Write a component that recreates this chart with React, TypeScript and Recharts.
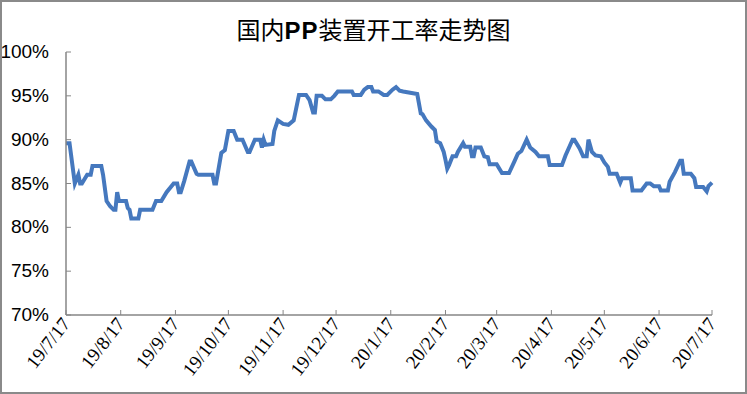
import React from 'react';
import { LineChart, Line, XAxis, YAxis } from 'recharts';

// days counted from 2019-07-17
const days = [
  0, 2, 5, 7, 8, 9, 12, 14, 15, 20, 21, 23, 25, 27, 28, 29, 30, 34, 35, 36, 37, 41, 42, 49, 51, 54, 57, 61, 63, 64, 65,
  67, 70, 71, 74, 75, 83, 84, 85, 88, 90, 92, 95, 97, 100, 103, 104, 107, 110, 111, 112, 113, 117, 118, 120, 123, 126,
  129, 132, 136, 138, 140, 141, 142, 145, 147, 150, 152, 154, 162, 163, 167, 169, 171, 173, 174, 177, 180, 182, 185,
  187, 189, 191, 199, 201, 202, 204, 207, 209, 210, 212, 214, 215, 216, 217, 219, 221, 222, 225, 226, 229, 230, 231,
  232, 235, 237, 239, 240, 244, 247, 251, 254, 256, 258, 261, 263, 266, 268, 273, 274, 281, 283, 287, 288, 291, 293,
  295, 296, 298, 300, 303, 305, 307, 308, 312, 314, 315, 320, 321, 326, 329, 331, 333, 336, 337, 341, 342, 345, 348,
  349, 350, 354, 356, 357, 361, 363, 364, 366,
];
const rates = [
  89.6, 89.6, 85.0, 86.0, 85.0, 85.0, 86.0, 86.0, 87.0, 87.0, 86.0, 83.0, 82.4, 82.0, 82.0, 84.0, 83.0, 83.0, 82.2, 82.0,
  81.0, 81.0, 82.0, 82.0, 83.0, 83.0, 84.0, 85.0, 85.0, 84.0, 84.0,
  85.3, 87.5, 87.5, 86.1, 86.0, 86.0, 85.0, 85.0, 88.5, 88.8, 91.0, 91.0, 90.0, 90.0, 88.6, 88.6, 90.0, 90.0, 89.1, 90.0,
  89.4, 89.5, 91.0, 92.2, 91.8, 91.7,
  92.2, 95.1, 95.1, 94.5, 93.1, 93.1, 95.0, 95.0, 94.6, 94.6, 95.0, 95.5, 95.5, 95.1, 95.1, 95.7, 96.0, 96.0, 95.5, 95.5,
  95.1, 95.1, 95.7,
  96.0, 95.6, 95.5, 95.2, 93.0, 92.9, 92.2, 91.5, 91.1, 89.8, 89.6, 88.6, 87.7, 86.7, 87.1, 88.1, 88.1, 88.6, 89.6, 89.2,
  89.2, 88.1, 88.1,
  89.1, 89.1, 88.1, 88.0, 87.2, 87.2, 86.2, 86.2, 87.5, 88.4, 88.7, 90.0, 89.1, 88.6, 88.1, 88.1, 87.1, 87.1, 88.2, 90.0,
  90.0, 89.0, 88.1,
  88.1, 90.0, 88.6, 88.2, 88.1, 87.4, 86.9, 86.1, 86.1, 85.1, 85.6, 85.6, 84.2, 84.2, 85.0, 85.0, 84.7, 84.7, 84.2, 84.2,
  85.2, 86.3, 87.6,
  87.6, 86.1, 86.1, 85.6, 84.6, 84.6, 84.1, 84.7, 85.1,
];

const tickDays = [0, 31, 62, 92, 123, 153, 184, 215, 244, 275, 305, 336, 366];
const tickLabels = [
  '19/7/17', '19/8/17', '19/9/17', '19/10/17', '19/11/17', '19/12/17',
  '20/1/17', '20/2/17', '20/3/17', '20/4/17', '20/5/17', '20/6/17', '20/7/17',
];
const yTicks = [70, 75, 80, 85, 90, 95, 100];

const data = days.map((d, i) => ({ day: d, rate: rates[i] }));

const AXIS = '#868686';

const YTick = (props: any) => {
  const { x, y, payload } = props;
  return (
    <g>
      <line x1={x} x2={x + 5} y1={y} y2={y} stroke={AXIS} />
      <text
        x={x - 17}
        y={y}
        dy={6}
        textAnchor="end"
        fontFamily="'Liberation Sans', Arial, sans-serif"
        fontSize={19}
        fill="#000"
      >
        {payload.value}%
      </text>
    </g>
  );
};

const XTick = (props: any) => {
  const { x, y, payload } = props;
  const idx = tickDays.indexOf(payload.value);
  const tx = x + 5;
  const ty = y + 9;
  return (
    <g>
      <line x1={x} x2={x} y1={y} y2={y - 5} stroke={AXIS} />
      <text
        x={tx}
        y={ty}
        textAnchor="end"
        transform={`rotate(-52 ${tx} ${ty})`}
        fontFamily="'Liberation Serif', 'Times New Roman', serif"
        fontSize={19}
        fill="#000"
      >
        {tickLabels[idx]}
      </text>
    </g>
  );
};

export default function App() {
  return (
    <div
      style={{
        position: 'absolute',
        left: 0,
        top: 0,
        width: 747,
        height: 394,
        boxSizing: 'border-box',
        border: '2px solid #8a8a8a',
        background: '#fff',
        overflow: 'hidden',
      }}
    >
      <div
        style={{
          position: 'absolute',
          left: 0,
          top: 11,
          width: 743,
          textAlign: 'center',
          fontFamily: "'Noto Sans CJK SC', sans-serif",
          fontSize: 24,
          lineHeight: '32px',
          color: '#000',
        }}
      >
        国内<span style={{ fontFamily: "'Liberation Sans', Arial, sans-serif", fontWeight: 'bold', letterSpacing: 1 }}>PP</span>装置开工率走势图
      </div>
      <div style={{ position: 'absolute', left: -2, top: -2 }}>
        <LineChart width={747} height={394} data={data} margin={{ top: 52, right: 35, bottom: 0, left: 0 }}>
          <XAxis
            dataKey="day"
            type="number"
            domain={[0, 366]}
            ticks={tickDays}
            interval={0}
            height={79}
            tickSize={0}
            tickMargin={0}
            tickLine={false}
            axisLine={{ stroke: AXIS, strokeWidth: 1.5 }}
            tick={<XTick />}
          />
          <YAxis
            type="number"
            domain={[70, 100]}
            ticks={yTicks}
            interval={0}
            width={66}
            tickSize={0}
            tickMargin={0}
            tickLine={false}
            axisLine={{ stroke: AXIS, strokeWidth: 1.5 }}
            tick={<YTick />}
          />
          <Line
            dataKey="rate"
            type="linear"
            stroke="#4578be"
            strokeWidth={4}
            dot={false}
            isAnimationActive={false}
          />
        </LineChart>
      </div>
    </div>
  );
}
